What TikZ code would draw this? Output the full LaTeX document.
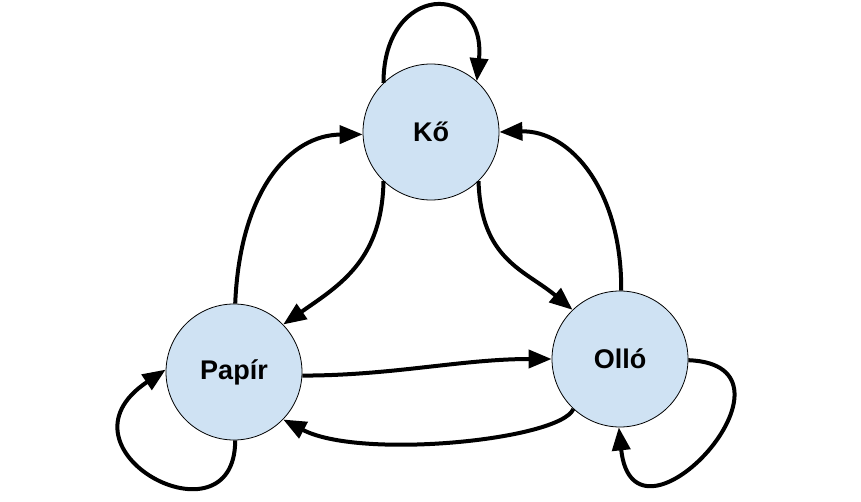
\documentclass[tikz,border=0pt]{standalone}
\usepackage{fontspec}
\setmainfont{Liberation Sans}
\usetikzlibrary{arrows.meta}
\definecolor{nodefill}{HTML}{CFE2F3}
\begin{document}
\begin{tikzpicture}[x=1pt,y=-1pt,
  state/.style={circle,draw=black,line width=0.8pt,fill=nodefill,minimum size=136pt,inner sep=0pt,font=\fontsize{27}{31}\selectfont\bfseries},
  conn/.style={line width=4pt,-{Triangle[length=23pt,width=18pt]}}]
\useasboundingbox (0,0) rectangle (861,502);
\node[state] (K) at (431,132) {Kő};
\node[state] (P) at (234,372) {Papír};
\node[state] (O) at (620,359) {Olló};
% self loops
\draw[conn] (K.134) .. controls +(0,-100) and +(10,-100) .. (K.48);
\draw[conn] (P.-89) .. controls +(0,110) and +(-120,80) .. (P.178);
\draw[conn] (O.-1) .. controls +(130,5) and +(15,140) .. (O.-91);
% between nodes
\draw[conn] (P.89) .. controls (240,190) and (290,135) .. (K.182);
\draw[conn] (K.226) .. controls (382,260) and (340,285) .. (P.44);
\draw[conn] (K.314) .. controls (481,260) and (525,270) .. (O.134);
\draw[conn] (O.89) .. controls (622,190) and (570,130) .. (K.0);
\draw[conn] (P.-3) .. controls +(90,0) and +(-90,0) .. (O.180);
\draw[conn] (O.227) .. controls (560,440) and (360,460) .. (P.-44);
\end{tikzpicture}
\end{document}
